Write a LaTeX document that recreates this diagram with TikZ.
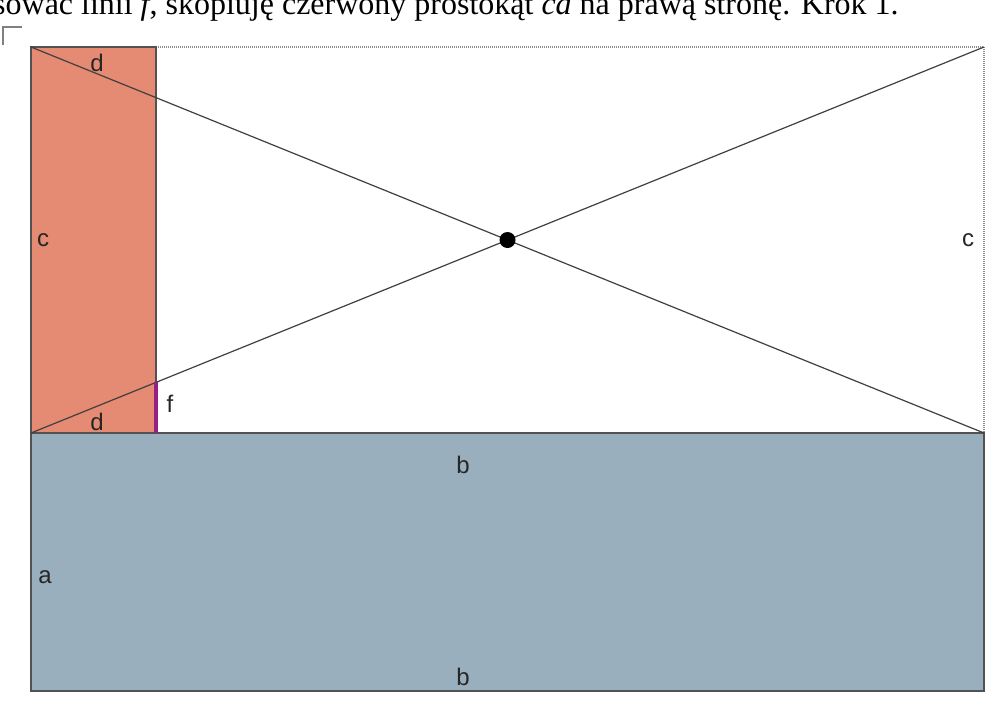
\documentclass[tikz,border=0pt]{standalone}
\usepackage{fontspec}
\setmainfont{Liberation Serif}
\setsansfont{Liberation Sans}
\begin{document}
\begin{tikzpicture}[x=1pt,y=-1pt,
  lbl/.style={font=\sffamily\fontsize{24}{24}\selectfont, text=black!85, inner sep=0pt},
  edge/.style={draw=black!68, line width=2pt},
  diag/.style={draw=black!75, line width=1.2pt},
  dotb/.style={draw=black!45, line width=1.4pt, dash pattern=on 1pt off 1pt}]
\clip (0,0) rectangle (1008,715);
\fill[white] (0,0) rectangle (1008,715);
% heading text
\node[anchor=base west, inner sep=0pt, font=\fontsize{32}{32}\selectfont] (head) at (-7,14)
  {sować linii \textit{f}, skopiuję czerwony prostokąt \textit{ca} na prawą stronę. Krok 1.};
% corner mark
\coordinate (m1) at (3,45); \coordinate (m2) at (3,27); \coordinate (m3) at (22,27);
\draw[black!50, line width=2pt] (m1) -- (m2) -- (m3);
% corners
\coordinate (TL) at (31,47);
\coordinate (TR) at (984,47);
\coordinate (ML) at (31,433);
\coordinate (MR) at (984,433);
\coordinate (BL) at (31,691);
\coordinate (BR) at (984,691);
\coordinate (RT) at (156,47);
\coordinate (RB) at (156,433);
% red rectangle
\fill[fill={rgb,255:red,229;green,138;blue,115}] (TL) rectangle (RB);
% blue rectangle
\fill[fill={rgb,255:red,153;green,175;blue,189}] (ML) rectangle (BR);
% dotted border of white part
\draw[dotb] (RT) -- (TR) -- (MR);
% edges
\draw[edge] (TL) rectangle (RB);
\draw[edge] (ML) rectangle (BR);
% diagonals
\draw[diag] (TL) -- (MR);
\draw[diag] (ML) -- (TR);
\coordinate (F) at (156,382.4);
\draw[line width=4pt, draw={rgb,255:red,150;green,30;blue,135}] (F) -- (RB);
% center dot
\node[circle, fill=black, inner sep=0pt, minimum size=16pt] (O) at (507.5,240) {};
% labels
\node[lbl] (d1) at (97,63) {d};
\node[lbl] (d2) at (97,422) {d};
\node[lbl] (c1) at (43,240) {c};
\node[lbl] (c2) at (968,240) {c};
\node[lbl] (f) at (170,404) {f};
\node[lbl] (b1) at (463,465) {b};
\node[lbl] (b2) at (463,677) {b};
\node[lbl] (a) at (45,577) {a};
\end{tikzpicture}
\end{document}
